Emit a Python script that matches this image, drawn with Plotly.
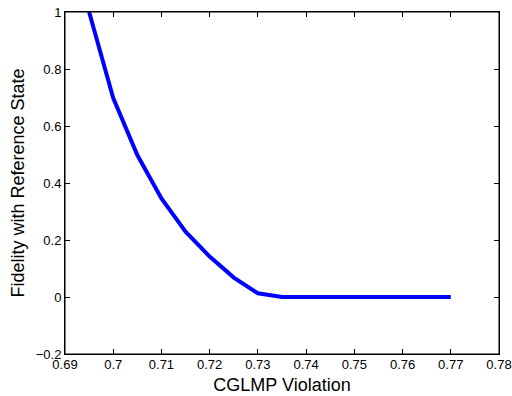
import plotly.graph_objects as go

violation = [0.695, 0.70, 0.705, 0.71, 0.715, 0.72, 0.725, 0.73, 0.735, 0.74, 0.745, 0.75, 0.755, 0.76, 0.765, 0.77]
fidelity = [1.0, 0.698, 0.498, 0.346, 0.229, 0.142, 0.068, 0.013, 0.0, 0.0, 0.0, 0.0, 0.0, 0.0, 0.0, 0.0]

x_ticks = [0.69, 0.70, 0.71, 0.72, 0.73, 0.74, 0.75, 0.76, 0.77, 0.78]
x_tick_text = ["0.69", "0.7", "0.71", "0.72", "0.73", "0.74", "0.75", "0.76", "0.77", "0.78"]
y_ticks = [-0.2, 0, 0.2, 0.4, 0.6, 0.8, 1.0]
y_tick_text = ["\u22120.2", "0", "0.2", "0.4", "0.6", "0.8", "1"]

fig = go.Figure()
fig.add_trace(go.Scatter(x=violation, y=fidelity, mode="lines",
                         line=dict(color="#0000ff", width=4), showlegend=False))

font = "Liberation Sans, Arial, Helvetica, sans-serif"
axis_common = dict(showline=True, linecolor="black", linewidth=1, mirror="ticks",
                   ticks="inside", ticklen=5, tickcolor="black", showgrid=False,
                   zeroline=False, automargin=False,
                   tickfont=dict(family=font, size=13, color="black"))

fig.update_layout(
    width=512, height=396,
    margin=dict(l=65, r=13, t=12, b=42),
    paper_bgcolor="white", plot_bgcolor="white",
    font=dict(family=font, color="black"),
    xaxis=dict(range=[0.69, 0.78], tickvals=x_ticks, ticktext=x_tick_text,
               ticklabelstandoff=-2,
               title=dict(text="CGLMP Violation", font=dict(size=18, family=font), standoff=7),
               **axis_common),
    yaxis=dict(range=[-0.2, 1.0], tickvals=y_ticks, ticktext=y_tick_text,
               title=dict(text="Fidelity with Reference State", font=dict(size=18, family=font), standoff=6),
               **axis_common),
    shapes=[dict(type="rect", xref="paper", yref="paper", x0=0, x1=1, y0=0, y1=1,
                 line=dict(color="black", width=1), fillcolor="rgba(0,0,0,0)", layer="above")],
)

fig.write_html("out.html", config={"displayModeBar": False},
               post_script="document.body.style.margin='0';document.body.style.overflow='hidden';")
